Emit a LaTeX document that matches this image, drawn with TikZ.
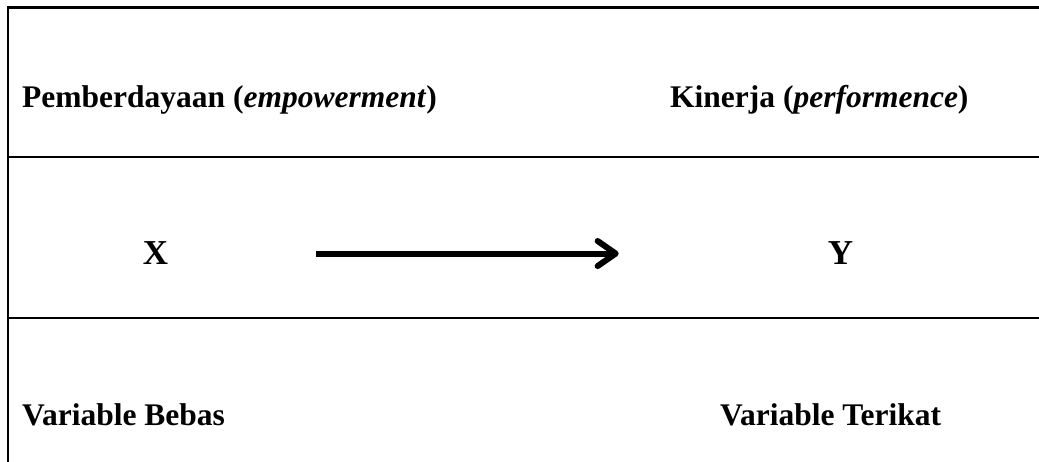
\documentclass[tikz,border=0pt]{standalone}
\usepackage{fontspec}
\setmainfont{Liberation Serif}
\usetikzlibrary{arrows.meta}
\begin{document}
\begin{tikzpicture}[x=1pt,y=-1pt,
  lbl/.style={anchor=base west,inner sep=0pt,font=\fontsize{31.5}{34}\selectfont\bfseries},
  var/.style={inner sep=0pt,font=\fontsize{35}{38}\selectfont\bfseries},
  rule/.style={line width=2pt},
  frame/.style={line width=2.5pt}]
\useasboundingbox (0,0) rectangle (1039,462);
% frame and rules
\draw[frame] (8,462) -- (8,7.5) -- (1039,7.5);
\draw[rule] (8,157) -- (1039,157);
\draw[rule] (8,318) -- (1039,318);
% header labels
\node[lbl] (pe) at (22,108) {Pemberdayaan (\textit{empowerment})};
\node[lbl] (ki) at (670,108) {Kinerja (\textit{performence})};
% variables
\node[var,anchor=base] (x) at (155.5,265) {X};
\node[var,anchor=base] (y) at (840.5,265) {Y};
\draw[line width=6pt,-{Straight Barb[length=18pt,width=25pt,round]},shorten <=148pt,shorten >=209pt] (x.east) -- (y.west);
% bottom labels
\node[lbl] (vb) at (22,425) {Variable Bebas};
\node[lbl] (vt) at (720,425) {Variable Terikat};
\end{tikzpicture}
\end{document}
